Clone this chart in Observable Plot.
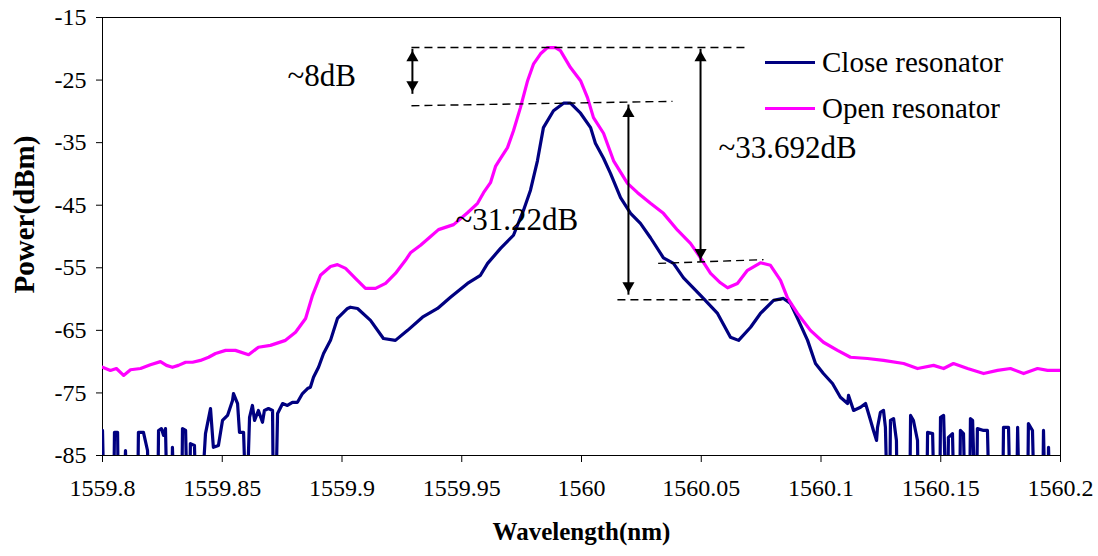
<!DOCTYPE html>
<html>
<head>
<meta charset="utf-8">
<script src="https://cdn.jsdelivr.net/npm/d3@7"></script>
<script src="https://cdn.jsdelivr.net/npm/@observablehq/plot@0.6"></script>
<style>
  html, body { margin: 0; padding: 0; background: #fff; }
  #wrap { position: relative; width: 1098px; height: 556px; }
  #wrap svg text { font-family: "Liberation Serif", "Times New Roman", serif; }
  #legend { position: absolute; left: 765px; top: 39px; font-family: "Liberation Serif", serif; font-size: 29px; color: #000; }
  .row { display: flex; align-items: center; height: 46px; line-height: 46px; }
  .sw { width: 50px; height: 3px; margin-right: 7px; }
</style>
</head>
<body>
<div id="wrap"><div id="legend"></div></div>
<script>
// ---- data (wavelength in nm, power in dBm); -95 = below the axis floor (clipped) ----
const closeWl = [
1559.8000,1559.8008,1559.8046,1559.8050,1559.8063,1559.8067,1559.8088,1559.8096,1559.8104,1559.8146,
1559.8150,1559.8171,1559.8188,1559.8196,1559.8230,1559.8234,1559.8246,1559.8255,1559.8263,1559.8271,
1559.8288,1559.8292,1559.8301,1559.8330,1559.8334,1559.8347,1559.8355,1559.8363,1559.8367,1559.8384,
1559.8392,1559.8409,1559.8430,1559.8451,1559.8463,1559.8484,1559.8501,1559.8522,1559.8543,1559.8547,
1559.8564,1559.8572,1559.8589,1559.8601,1559.8614,1559.8626,1559.8635,1559.8651,1559.8668,1559.8676,
1559.8693,1559.8710,1559.8714,1559.8722,1559.8731,1559.8752,1559.8772,1559.8793,1559.8814,1559.8835,
1559.8856,1559.8868,1559.8881,1559.8902,1559.8923,1559.8952,1559.8981,1559.9002,1559.9023,1559.9035,
1559.9065,1559.9119,1559.9173,1559.9223,1559.9274,1559.9336,1559.9399,1559.9453,1559.9524,1559.9578,
1559.9608,1559.9662,1559.9716,1559.9758,1559.9787,1559.9816,1559.9841,1559.9883,1559.9925,1559.9954,
1559.9996,1560.0038,1560.0058,1560.0092,1560.0121,1560.0163,1560.0205,1560.0246,1560.0288,1560.0342,
1560.0384,1560.0426,1560.0497,1560.0568,1560.0622,1560.0656,1560.0706,1560.0747,1560.0802,1560.0843,
1560.0873,1560.0906,1560.0944,1560.0977,1560.1010,1560.1048,1560.1081,1560.1111,1560.1115,1560.1136,
1560.1165,1560.1186,1560.1207,1560.1219,1560.1232,1560.1236,1560.1248,1560.1261,1560.1269,1560.1278,
1560.1286,1560.1290,1560.1303,1560.1315,1560.1319,1560.1370,1560.1374,1560.1386,1560.1403,1560.1407,
1560.1441,1560.1445,1560.1466,1560.1474,1560.1495,1560.1499,1560.1512,1560.1524,1560.1528,1560.1532,
1560.1549,1560.1557,1560.1578,1560.1582,1560.1595,1560.1603,1560.1620,1560.1624,1560.1633,1560.1645,
1560.1649,1560.1653,1560.1679,1560.1695,1560.1704,1560.1758,1560.1762,1560.1783,1560.1791,1560.1816,
1560.1821,1560.1829,1560.1862,1560.1866,1560.1883,1560.1892,1560.1925,1560.1929,1560.1937,1560.1946,
1560.1950,1560.1958,1560.2000];
const closePow = [
-81.0,-95,-95,-81.3,-81.3,-95,-95,-84.2,-95,-95,
-81.3,-81.3,-84.2,-95,-95,-81.0,-80.7,-81.8,-80.7,-95,
-95,-83.7,-95,-95,-80.7,-81.0,-95,-95,-83.1,-83.4,
-95,-95,-81.5,-77.5,-83.7,-83.4,-79.4,-78.6,-76.2,-75.1,
-76.7,-81.3,-81.3,-95,-78.9,-77.0,-79.4,-77.8,-79.7,-77.8,
-77.5,-77.8,-95,-95,-78.3,-76.7,-77.0,-76.5,-76.5,-75.1,
-74.3,-74.1,-72.5,-70.9,-68.7,-66.6,-63.1,-62.3,-61.5,-61.3,
-61.5,-63.4,-66.3,-66.6,-65.0,-62.9,-61.5,-59.7,-57.5,-56.2,
-54.3,-51.9,-49.8,-45.8,-42.6,-37.9,-32.6,-29.9,-28.7,-28.7,
-30.3,-32.6,-35.1,-37.5,-39.9,-43.8,-46.3,-47.9,-50.2,-53.4,
-54.3,-56.6,-59.4,-62.3,-66.1,-66.6,-64.5,-62.3,-60.2,-59.9,
-60.7,-63.4,-66.6,-70.3,-71.9,-73.5,-75.7,-76.7,-75.4,-77.8,
-77.3,-76.7,-79.4,-81.0,-82.6,-80.5,-78.1,-77.8,-80.5,-95,
-95,-79.4,-79.1,-82.6,-95,-95,-78.6,-79.4,-82.6,-95,
-95,-81.3,-81.5,-95,-95,-78.9,-78.6,-95,-95,-82.1,
-81.5,-95,-95,-81.0,-81.5,-95,-95,-79.1,-79.4,-95,
-95,-80.7,-81.0,-81.0,-95,-95,-80.5,-80.5,-95,-95,
-80.5,-95,-95,-79.9,-81.0,-95,-95,-81.0,-95,-95,
-83.7,-95,-95];

const openWl = [
1559.8000,1559.8033,1559.8058,1559.8088,1559.8117,1559.8159,1559.8200,1559.8242,1559.8267,1559.8292,
1559.8317,1559.8347,1559.8376,1559.8409,1559.8443,1559.8472,1559.8514,1559.8555,1559.8610,1559.8651,
1559.8701,1559.8764,1559.8806,1559.8848,1559.8877,1559.8910,1559.8952,1559.8981,1559.9015,1559.9056,
1559.9098,1559.9140,1559.9182,1559.9223,1559.9265,1559.9286,1559.9328,1559.9370,1559.9403,1559.9466,
1559.9524,1559.9566,1559.9591,1559.9620,1559.9641,1559.9662,1559.9691,1559.9716,1559.9745,1559.9775,
1559.9800,1559.9829,1559.9858,1559.9891,1559.9912,1559.9954,1559.9996,1560.0025,1560.0050,1560.0092,
1560.0134,1560.0192,1560.0234,1560.0288,1560.0342,1560.0401,1560.0455,1560.0497,1560.0539,1560.0580,
1560.0610,1560.0651,1560.0693,1560.0747,1560.0789,1560.0831,1560.0860,1560.0902,1560.0956,1560.1010,
1560.1069,1560.1123,1560.1194,1560.1261,1560.1345,1560.1403,1560.1470,1560.1512,1560.1553,1560.1612,
1560.1679,1560.1737,1560.1791,1560.1846,1560.1904,1560.1946,1560.2000];
const openPow = [
-70.9,-71.4,-71.1,-72.2,-71.3,-71.1,-70.5,-70.0,-70.6,-70.9,
-70.6,-70.1,-70.1,-69.8,-69.3,-68.7,-68.2,-68.2,-68.9,-67.7,
-67.4,-66.6,-65.3,-63.1,-59.4,-56.2,-54.8,-54.5,-55.1,-56.7,
-58.3,-58.3,-57.5,-55.9,-53.8,-52.6,-51.4,-50.0,-48.9,-48.1,
-46.2,-44.7,-43.0,-41.4,-38.8,-37.5,-35.8,-33.1,-29.4,-25.1,
-22.4,-20.8,-19.8,-19.8,-20.3,-23.0,-25.1,-27.8,-31.0,-33.5,
-37.9,-41.5,-43.0,-44.7,-46.3,-49.0,-51.1,-53.4,-55.9,-57.4,
-58.2,-57.5,-55.4,-54.2,-54.6,-57.0,-59.8,-62.3,-65.0,-66.9,
-68.2,-69.3,-69.5,-69.8,-70.3,-71.1,-70.6,-71.1,-70.3,-71.1,
-71.9,-71.4,-71.1,-71.9,-71.1,-71.4,-71.4];

const seriesNames = ["Close resonator", "Open resonator"];
const seriesColors = ["#000080", "#FF00FF"];
const xTicks = [1559.8, 1559.85, 1559.9, 1559.95, 1560, 1560.05, 1560.1, 1560.15, 1560.2];
const yTicks = [-15, -25, -35, -45, -55, -65, -75, -85];

// annotation values (data units)
const guideLines = [
  {x1: 1559.929, y1: -19.8, x2: 1560.070, y2: -19.8},
  {x1: 1559.929, y1: -29.1, x2: 1560.038, y2: -28.4},
  {x1: 1560.032, y1: -54.3, x2: 1560.076, y2: -53.7},
  {x1: 1560.015, y1: -60.1, x2: 1560.086, y2: -60.1}
];
const dimArrows = [
  {x: 1559.9294, top: -20.0, bottom: -27.2},
  {x: 1560.0196, top: -28.9, bottom: -59.3},
  {x: 1560.0497, top: -20.0, bottom: -54.0}
];
const dimLabels = [
  {x: 1559.8772, y: -24.3, text: "~8dB"},
  {x: 1559.9474, y: -47.4, text: "~31.22dB"},
  {x: 1560.0572, y: -35.9, text: "~33.692dB"}
];

const rows = [
  ...closeWl.map((w, i) => ({wl: w, p: closePow[i], s: seriesNames[0]})),
  ...openWl.map((w, i) => ({wl: w, p: openPow[i], s: seriesNames[1]}))
];

const font = "'Liberation Serif', 'Times New Roman', serif";

const chart = Plot.plot({
  width: 1098,
  height: 556,
  marginTop: 17,
  marginRight: 38,
  marginBottom: 101,
  marginLeft: 102,
  style: {fontFamily: font, fontSize: "24px", color: "#000", background: "#fff", overflow: "visible"},
  x: {domain: [1559.8, 1560.2]},
  y: {domain: [-85, -15]},
  color: {domain: seriesNames, range: seriesColors},
  marks: [
    Plot.frame({stroke: "#000", strokeWidth: 1}),
    Plot.axisX({ticks: xTicks, tickFormat: d => String(d), tickSize: 7, tickPadding: 16, label: null, fontSize: 24}),
    Plot.axisY({ticks: yTicks, tickFormat: d => String(d), tickSize: 6, tickPadding: 10, label: null, fontSize: 24}),
    Plot.text(["Wavelength(nm)"], {frameAnchor: "bottom", dy: 84, fontSize: 25, fontWeight: "bold"}),
    Plot.text(["Power(dBm)"], {frameAnchor: "left", textAnchor: "middle", rotate: -90, dx: -78, dy: -22, fontSize: 29, fontWeight: "bold"}),
    Plot.line(rows, {x: "wl", y: "p", z: "s", stroke: "s", strokeWidth: 3.2, clip: true, curve: "linear"}),
    Plot.link(guideLines, {x1: "x1", y1: "y1", x2: "x2", y2: "y2", stroke: "#000", strokeWidth: 1.4, strokeDasharray: "8,5"}),
    Plot.link(dimArrows, {x1: "x", x2: "x", y1: "top", y2: "bottom", stroke: "#000", strokeWidth: 2}),
    Plot.dot(dimArrows, {x: "x", y: "top", symbol: "triangle2", r: 5.8, fill: "#000", stroke: null, dy: 9}),
    Plot.dot(dimArrows, {x: "x", y: "bottom", symbol: "triangle2", r: 5.8, fill: "#000", stroke: null, rotate: 180, dy: -9}),
    Plot.text(dimLabels, {x: "x", y: "y", text: "text", textAnchor: "start", fontSize: 31, fill: "#000"})
  ]
});

document.getElementById("wrap").prepend(chart);

const legend = document.getElementById("legend");
seriesNames.forEach((name, i) => {
  const row = document.createElement("div");
  row.className = "row";
  const sw = document.createElement("div");
  sw.className = "sw";
  sw.style.background = seriesColors[i];
  const label = document.createElement("span");
  label.textContent = name;
  row.appendChild(sw);
  row.appendChild(label);
  legend.appendChild(row);
});
</script>
</body>
</html>
